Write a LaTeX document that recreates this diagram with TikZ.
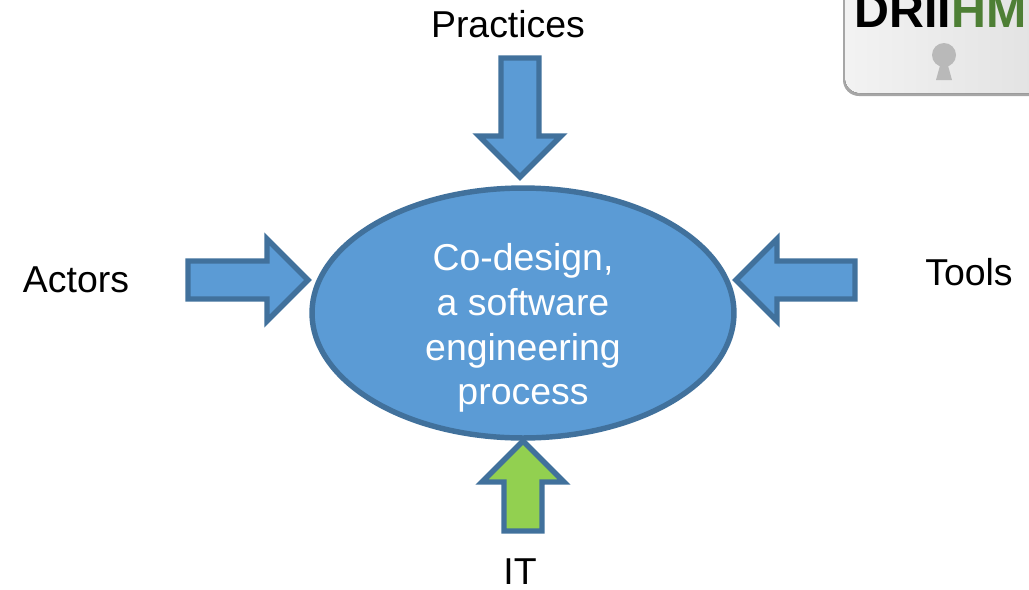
\documentclass[tikz,border=0pt]{standalone}
\usepackage{fontspec}
\usetikzlibrary{shapes.geometric}
\setmainfont{Liberation Sans}
\definecolor{bluefill}{HTML}{5B9BD5}
\definecolor{blueline}{HTML}{41719C}
\definecolor{greenfill}{HTML}{92D050}
\definecolor{logogreen}{HTML}{4E7F35}
\tikzset{
	pics/blockarrow/.style 2 args={code={
			\filldraw[line width=3.1pt,miter limit=10,draw=blueline,fill=#2]
			(0,0)--(-41,-41)--(-41,-19)--(-#1,-19)--(-#1,19)--(-41,19)--(-41,41)--cycle;
	}},
	label text/.style={font=\fontsize{21.3}{25.5}\selectfont,text=black,inner sep=0pt},
}
\begin{document}
\begin{tikzpicture}[x=0.02cm,y=-0.02cm,line join=miter]
	\useasboundingbox (0,0) rectangle (1029,589);
	\clip (0,0) rectangle (1029,589);
	% logo in the corner
	\fill[gray!70,rounded corners=0.32cm] (843,-40) rectangle (1080,96);
	\fill[left color=gray!10,right color=gray!25,rounded corners=0.3cm] (845,-40) rectangle (1080,93);
	\node[font=\fontsize{27.5}{27}\bfseries\selectfont,anchor=base west,inner sep=0pt] (logoa) at (854,27) {DRII};
	\node[font=\fontsize{27.5}{27}\bfseries\selectfont,text=logogreen,anchor=base west,inner sep=0pt] (logob) at (logoa.base east) {HM};
	\fill[gray!55] (944,55) circle [radius=12];
	\fill[gray!55] (941,62)--(947,62)--(952,80)--(936,80)--cycle;
	% centre
	\node[ellipse,draw=blueline,fill=bluefill,line width=3.1pt,inner sep=0pt,minimum width=8.44cm,minimum height=5cm] (codesign) at (523,313) {};
	\node[label text,text=white,align=center] (process) at (523,328) {Co-design,\\a software\\engineering\\process};
	% arrows
	\path (520,177) pic[rotate=-90]{blockarrow={119}{bluefill}};
	\path (308,280) pic{blockarrow={120}{bluefill}};
	\path (736,280) pic[rotate=180]{blockarrow={119}{bluefill}};
	\path (523,441) pic[rotate=90]{blockarrow={90}{greenfill}};
	% labels
	\node[label text] (practices) at (508,24) {Practices};
	\node[label text] (actors) at (76,280) {Actors};
	\node[label text] (tools) at (969,272) {Tools};
	\node[label text] (it) at (520,572) {IT};
\end{tikzpicture}
\end{document}
